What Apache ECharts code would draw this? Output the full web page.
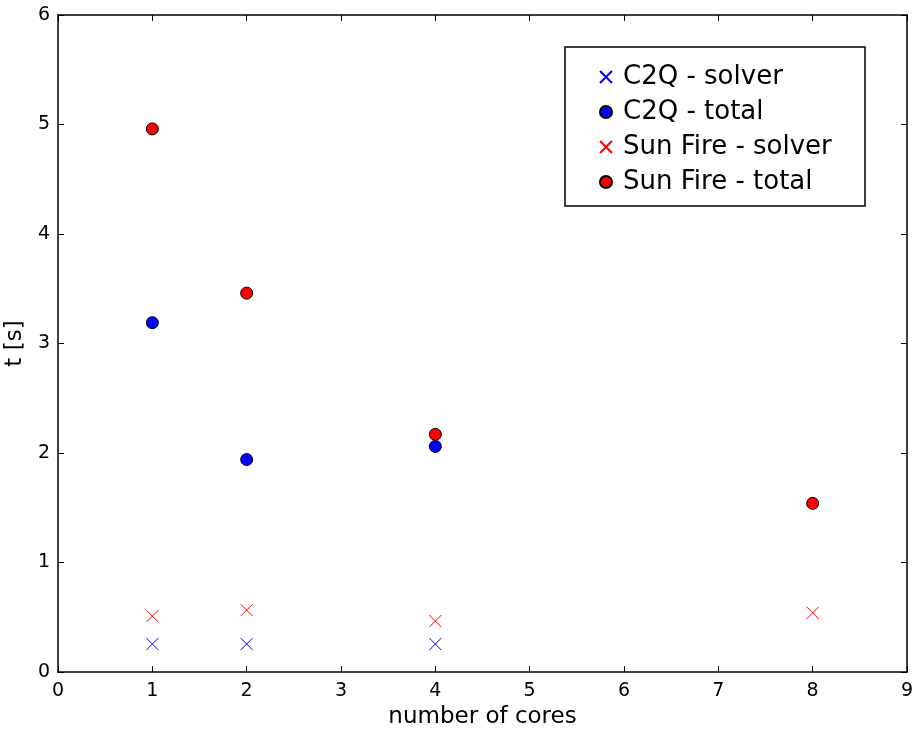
<!DOCTYPE html>
<html>
<head>
<meta charset="utf-8">
<script src="https://cdn.jsdelivr.net/npm/echarts@6/dist/echarts.min.js"></script>
<style>
  html, body { margin: 0; padding: 0; background: #fff; }
  #chart { width: 914px; height: 731px; }
</style>
</head>
<body>
<div id="chart"></div>
<script>
// 数据
const c2qCores = [1, 2, 4];
const c2qSolver = [0.255, 0.255, 0.255];
const c2qTotal = [3.19, 1.94, 2.06];
const sunCores = [1, 2, 4, 8];
const sunSolver = [0.51, 0.565, 0.465, 0.54];
const sunTotal = [4.96, 3.46, 2.17, 1.54];

const FONT = 'DejaVu Sans';
const CROSS = 'path://M0,0L10,10M0,10L10,0';

function pairs(xs, ys) {
  return xs.map(function(x, i) { return [x, ys[i]]; });
}

const chart = echarts.init(document.getElementById('chart'));

const tickIn = { show: true, inside: true, length: 6, lineStyle: { color: '#000', width: 1 } };
const axLine = { show: true, onZero: false, lineStyle: { color: '#000', width: 1.5 } };

function crossSeries(name, color, data) {
  return {
    name: name, type: 'scatter', data: data,
    symbol: CROSS, symbolSize: 12,
    itemStyle: { color: 'transparent', borderColor: color, borderWidth: 1, opacity: 1 },
    xAxisIndex: 0, yAxisIndex: 0
  };
}
function dotSeries(name, color, data) {
  return {
    name: name, type: 'scatter', data: data,
    symbol: 'circle', symbolSize: 12,
    itemStyle: { color: color, borderColor: '#000', borderWidth: 1, opacity: 1 },
    xAxisIndex: 0, yAxisIndex: 0
  };
}

const option = {
  backgroundColor: '#fff',
  animation: false,
  textStyle: { fontFamily: FONT },
  grid: { left: 58, right: 7, top: 15, bottom: 59, containLabel: false, outerBoundsMode: 'none' },
  xAxis: [{
    type: 'value', min: 0, max: 9, interval: 1, position: 'bottom',
    name: 'number of cores', nameLocation: 'middle', nameGap: 33,
    nameTextStyle: { color: '#000', fontSize: 23, fontFamily: FONT },
    axisLine: axLine, axisTick: tickIn,
    axisLabel: { color: '#000', fontSize: 19, fontFamily: FONT, margin: 10 },
    splitLine: { show: false }
  }, {
    type: 'value', min: 0, max: 9, interval: 1, position: 'top',
    axisLine: axLine, axisTick: tickIn, axisLabel: { show: false }, splitLine: { show: false }
  }],
  yAxis: [{
    type: 'value', min: 0, max: 6, interval: 1, position: 'left',
    name: 't [s]', nameLocation: 'middle', nameGap: 31, nameRotate: 90,
    nameTextStyle: { color: '#000', fontSize: 23, fontFamily: FONT },
    axisLine: axLine, axisTick: tickIn,
    axisLabel: { color: '#000', fontSize: 19, fontFamily: FONT, margin: 8 },
    splitLine: { show: false }
  }, {
    type: 'value', min: 0, max: 6, interval: 1, position: 'right',
    axisLine: axLine, axisTick: tickIn, axisLabel: { show: false }, splitLine: { show: false }
  }],
  legend: {
    orient: 'vertical', left: 594, top: 58,
    itemWidth: 12, itemHeight: 12, itemGap: 7,
    textStyle: { color: '#000', fontSize: 26, fontFamily: FONT, lineHeight: 28, padding: [0, 0, 0, 6] },
    data: ['C2Q - solver', 'C2Q - total', 'Sun Fire - solver', 'Sun Fire - total']
  },
  graphic: [{
    type: 'rect', z: 100, silent: true,
    shape: { x: 565, y: 47, width: 300, height: 159 },
    style: { fill: 'none', stroke: '#000', lineWidth: 1.5 }
  }],
  series: [
    crossSeries('C2Q - solver', '#0000ff', pairs(c2qCores, c2qSolver)),
    dotSeries('C2Q - total', '#0000ff', pairs(c2qCores, c2qTotal)),
    crossSeries('Sun Fire - solver', '#ff0000', pairs(sunCores, sunSolver)),
    dotSeries('Sun Fire - total', '#ff0000', pairs(sunCores, sunTotal))
  ]
};

chart.setOption(option);
</script>
</body>
</html>
